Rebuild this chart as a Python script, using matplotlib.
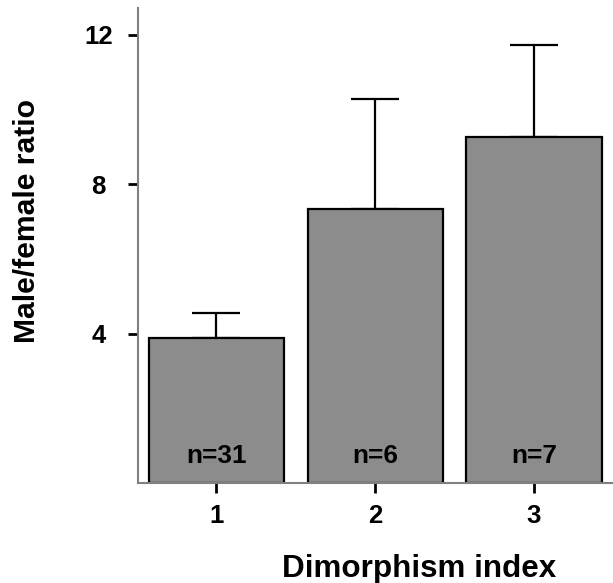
import matplotlib
matplotlib.use("Agg")
import matplotlib.pyplot as plt

categories = [1, 2, 3]
means = [3.89, 7.34, 9.28]
errors = [0.67, 2.95, 2.46]
labels = ["n=31", "n=6", "n=7"]
yticks = [4, 8, 12]

plt.rcParams['font.family'] = ['Liberation Sans', 'DejaVu Sans']
plt.rcParams['font.weight'] = 'bold'

W, H = 613, 583
fig = plt.figure(figsize=(W / 100, H / 100), dpi=100)
ax = fig.add_axes([0.2246, 0.1707, 0.7754, 0.8156])

ax.bar(categories, means, width=0.85, color='#8c8c8c', edgecolor='black', linewidth=1.6, zorder=2)
ax.errorbar(categories, means, yerr=[[0]*3, errors], fmt='none', ecolor='black',
            elinewidth=1.6, capsize=17.5, capthick=1.6, zorder=1)
for x, t in zip(categories, labels):
    ax.text(x, 0.55, t, ha='center', va='baseline', fontsize=18.8, fontweight='bold', zorder=3)

ax.set_xlim(0.506, 3.497)
ax.set_ylim(0, 12.72)
ax.set_xticks(categories)
ax.set_yticks(yticks)
ax.tick_params(axis='both', direction='out', length=7, width=2, color='black',
               labelsize=18.5)
ax.tick_params(axis='y', pad=21)
ax.tick_params(axis='x', pad=8)
for lab in ax.get_xticklabels() + ax.get_yticklabels():
    lab.set_fontweight('bold')
for lab in ax.get_yticklabels():
    lab.set_horizontalalignment('center')
for s in ['top', 'right']:
    ax.spines[s].set_visible(False)
for s in ['left', 'bottom']:
    ax.spines[s].set_color('#808080')
    ax.spines[s].set_linewidth(1.5)

fig.text(27 / W, 1 - 221 / H, 'Male/female ratio', rotation=90, ha='center', va='center',
         fontsize=21.7, fontweight='bold')
fig.text(419 / W, 1 - 577 / H, 'Dimorphism index', ha='center', va='baseline',
         fontsize=22.6, fontweight='bold')

fig.savefig('out.png', dpi=100)
